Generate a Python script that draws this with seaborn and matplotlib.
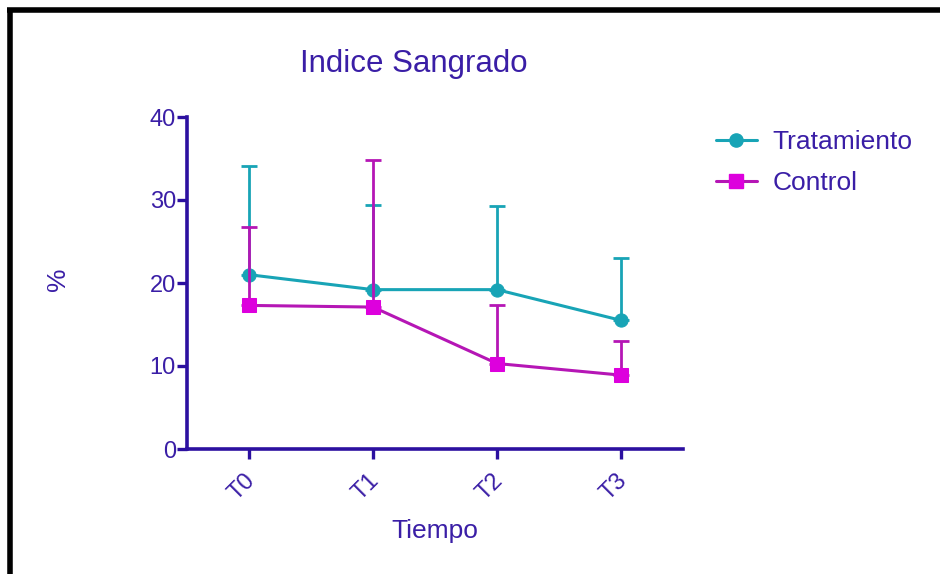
import numpy as np
import pandas as pd
import matplotlib
matplotlib.use("Agg")
import matplotlib.pyplot as plt
from matplotlib.lines import Line2D
from matplotlib.transforms import ScaledTranslation
import seaborn as sns

# ---- data ----
tiempos = ["T0", "T1", "T2", "T3"]
tratamiento_media = [21.0, 19.2, 19.2, 15.5]
tratamiento_sup = [34.1, 29.4, 29.3, 23.0]
control_media = [17.3, 17.1, 10.3, 8.9]
control_sup = [26.7, 34.8, 17.3, 13.0]
grupos = ["Tratamiento", "Control"]
yticks = [0, 10, 20, 30, 40]

sns.set_style("white")
plt.rcParams["font.family"] = ["Liberation Sans", "DejaVu Sans"]

axis_col = "#2C10A0"
text_col = "#3A1EA6"
teal = "#18A4B6"
mag_line = "#B516B5"
mag_mark = "#DD00DD"

x_idx = np.arange(len(tiempos))
df = pd.DataFrame({
    "x": np.concatenate([x_idx, x_idx]),
    "v": tratamiento_media + control_media,
    "grupo": [grupos[0]] * 4 + [grupos[1]] * 4,
})

fig = plt.figure(figsize=(9.40, 5.74), dpi=100)
ax = fig.add_axes([187 / 940, 125 / 574, 496 / 940, 332 / 574])

# error bars (upper only)
ax.errorbar(x_idx, tratamiento_media,
            yerr=[np.zeros(4), np.array(tratamiento_sup) - np.array(tratamiento_media)],
            fmt="none", ecolor=teal, elinewidth=2.0, capsize=6, capthick=2.0, zorder=2)
sns.lineplot(data=df[df.grupo == grupos[0]], x="x", y="v", ax=ax, color=teal,
             marker="o", markersize=9.5, markeredgecolor=teal, linewidth=2.2,
             legend=False, zorder=3)
ax.errorbar(x_idx, control_media,
            yerr=[np.zeros(4), np.array(control_sup) - np.array(control_media)],
            fmt="none", ecolor=mag_line, elinewidth=2.0, capsize=6, capthick=2.0, zorder=4)
sns.lineplot(data=df[df.grupo == grupos[1]], x="x", y="v", ax=ax, color=mag_line,
             marker="s", markersize=10, markerfacecolor=mag_mark, markeredgecolor=mag_mark,
             linewidth=2.2, legend=False, zorder=5)

ax.set_xlim(-0.5, 3.5)
ax.set_ylim(0, 40)
ax.set_xticks(x_idx)
ax.set_xticklabels(tiempos, rotation=45, ha="right", rotation_mode="anchor")
ax.set_yticks(yticks)
ax.tick_params(axis="both", colors=axis_col, labelcolor=text_col, labelsize=17,
               length=7, width=2.4, direction="out", pad=1, bottom=True, left=True)
ax.tick_params(axis="x", pad=8)
shift = ScaledTranslation(-5 / 100, 0, fig.dpi_scale_trans)
for lbl in ax.get_xticklabels():
    lbl.set_transform(lbl.get_transform() + shift)
for s in ["top", "right"]:
    ax.spines[s].set_visible(False)
for s in ["left", "bottom"]:
    ax.spines[s].set_color(axis_col)
    ax.spines[s].set_linewidth(2.6)

ax.set_xlabel("Tiempo", fontsize=19, color=text_col, labelpad=10)
ax.set_ylabel("%", fontsize=19, color=text_col)
ax.yaxis.set_label_coords(-(187 - 70) / 496, 0.51)
fig.text(414 / 940, 1 - 64 / 574, "Indice Sangrado", fontsize=22.5, color=text_col,
         ha="center", va="center")

handles = [
    Line2D([], [], color=teal, marker="o", markersize=9.5, linewidth=2.2),
    Line2D([], [], color=mag_line, marker="s", markersize=10, markerfacecolor=mag_mark,
           markeredgecolor=mag_mark, linewidth=2.2),
]
leg = fig.legend(handles, grupos, loc="upper left", bbox_to_anchor=(692 / 940, 1 - 106 / 574),
                 frameon=False, fontsize=19, handlelength=1.55, labelspacing=0.65,
                 handletextpad=0.6)
for t in leg.get_texts():
    t.set_color(text_col)

# black frame (top and left)
fig.add_artist(Line2D([7 / 940, 1.0], [1 - 10 / 574, 1 - 10 / 574], color="black",
                      linewidth=4, transform=fig.transFigure, solid_capstyle="butt"))
fig.add_artist(Line2D([9.5 / 940, 9.5 / 940], [0, 1 - 8 / 574], color="black",
                      linewidth=4, transform=fig.transFigure, solid_capstyle="butt"))

fig.savefig("out.png", dpi=100)
